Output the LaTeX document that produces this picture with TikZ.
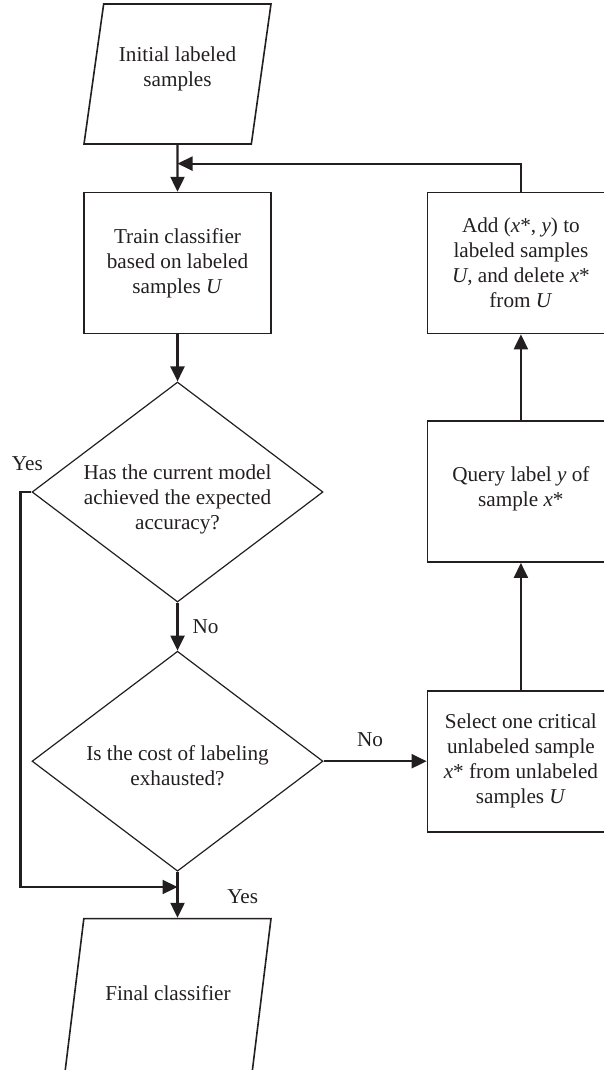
\documentclass[tikz,border=0pt]{standalone}
\usepackage{fontspec}
\setmainfont{Liberation Serif}
\usepackage{xcolor}
\definecolor{ink}{HTML}{231F20}
\newcommand{\flowfont}{\fontsize{10.6}{12.5}\selectfont}
% move a block of lines up or down without changing its box
\newcommand{\shifted}[2]{\raisebox{#1}[\height][\depth]{\begin{tabular}{@{}c@{}}#2\end{tabular}}}
\usepackage{tikz}
\usetikzlibrary{arrows.meta,positioning,shapes.geometric}
\tikzset{
  iobox/.style   = {trapezium, trapezium left angle=82, trapezium right angle=98,
                    trapezium stretches body=true, draw=ink, line width=0.8pt,
                    minimum width=93.5pt, inner xsep=0pt, inner ysep=22.5pt,
                    align=center, font=\flowfont, text=ink},
  procbox/.style = {rectangle, draw=ink, line width=0.8pt, inner sep=0pt,
                    minimum width=93.5pt, minimum height=70.5pt,
                    align=center, font=\flowfont, text=ink},
  decide/.style  = {diamond, draw=ink, line width=0.6pt, inner sep=0pt,
                    aspect=1.33, minimum width=145.5pt, minimum height=110pt,
                    align=center, font=\flowfont, text=ink},
  lbl/.style     = {font=\flowfont, text=ink},
  arr/.style     = {-{Triangle[length=7.5pt,width=7pt]}, line width=1.1pt, draw=ink}
}

\begin{document}
\begin{tikzpicture}
  \useasboundingbox (0,0) rectangle (302pt,-535pt);
  % main column
  \node[iobox] (init) at (88.75pt,-37pt) {\shifted{2.5pt}{Initial labeled\\samples}};
  \node[procbox, below=23.5pt of init] (train) {Train classifier\\based on labeled\\samples \textit{U}};
  \node[decide, below=23.5pt of train] (acc) {\shifted{-3.5pt}{Has the current model\\achieved the expected\\accuracy?}};
  \node[decide, below=24pt of acc] (cost) {\shifted{-3.5pt}{Is the cost of labeling\\exhausted?}};
  \node[iobox, below=23pt of cost, xshift=-4.75pt, minimum width=103pt, inner ysep=32.1pt,
        trapezium left angle=83, trapezium right angle=97] (final) {\shifted{0pt}{Final classifier}};
  % query column
  \node[procbox, right=51.5pt of cost] (select) {Select one critical\\unlabeled sample\\\textit{x}* from unlabeled\\samples \textit{U}};
  \node[procbox, above=63.5pt of select] (query) {\shifted{1.5pt}{Query label \textit{y} of\\sample \textit{x}*}};
  \node[procbox, above=43pt of query] (add) {Add (\textit{x}*, \textit{y}) to\\labeled samples\\\textit{U}, and delete \textit{x}*\\from \textit{U}};
  \node[lbl, above=7pt of acc.west, xshift=-2pt] (yes1) {Yes};

  \draw[arr] (init) -- coordinate[pos=0.4] (join) (train);
  \draw[arr] (train) -- (acc);
  \draw[arr] (acc) -- node[lbl, right=3.7pt] (no1) {No} (cost);
  \draw[arr] (cost.south) -- coordinate[pos=0.33] (join2)
    node[lbl, pos=0.55, right=21pt] (yes2) {Yes} (cost.south |- final.north);
  \draw[arr] (cost) -- node[lbl, pos=0.45, above=3.5pt] (no2) {No} (select);
  \draw[arr] (select) -- (query);
  \draw[arr] (query) -- (add);
  \draw[arr] (add.north) |- (join);
  \draw[arr] (acc.west) -- ++(-5.5pt,0) |- (join2);
\end{tikzpicture}
\end{document}
